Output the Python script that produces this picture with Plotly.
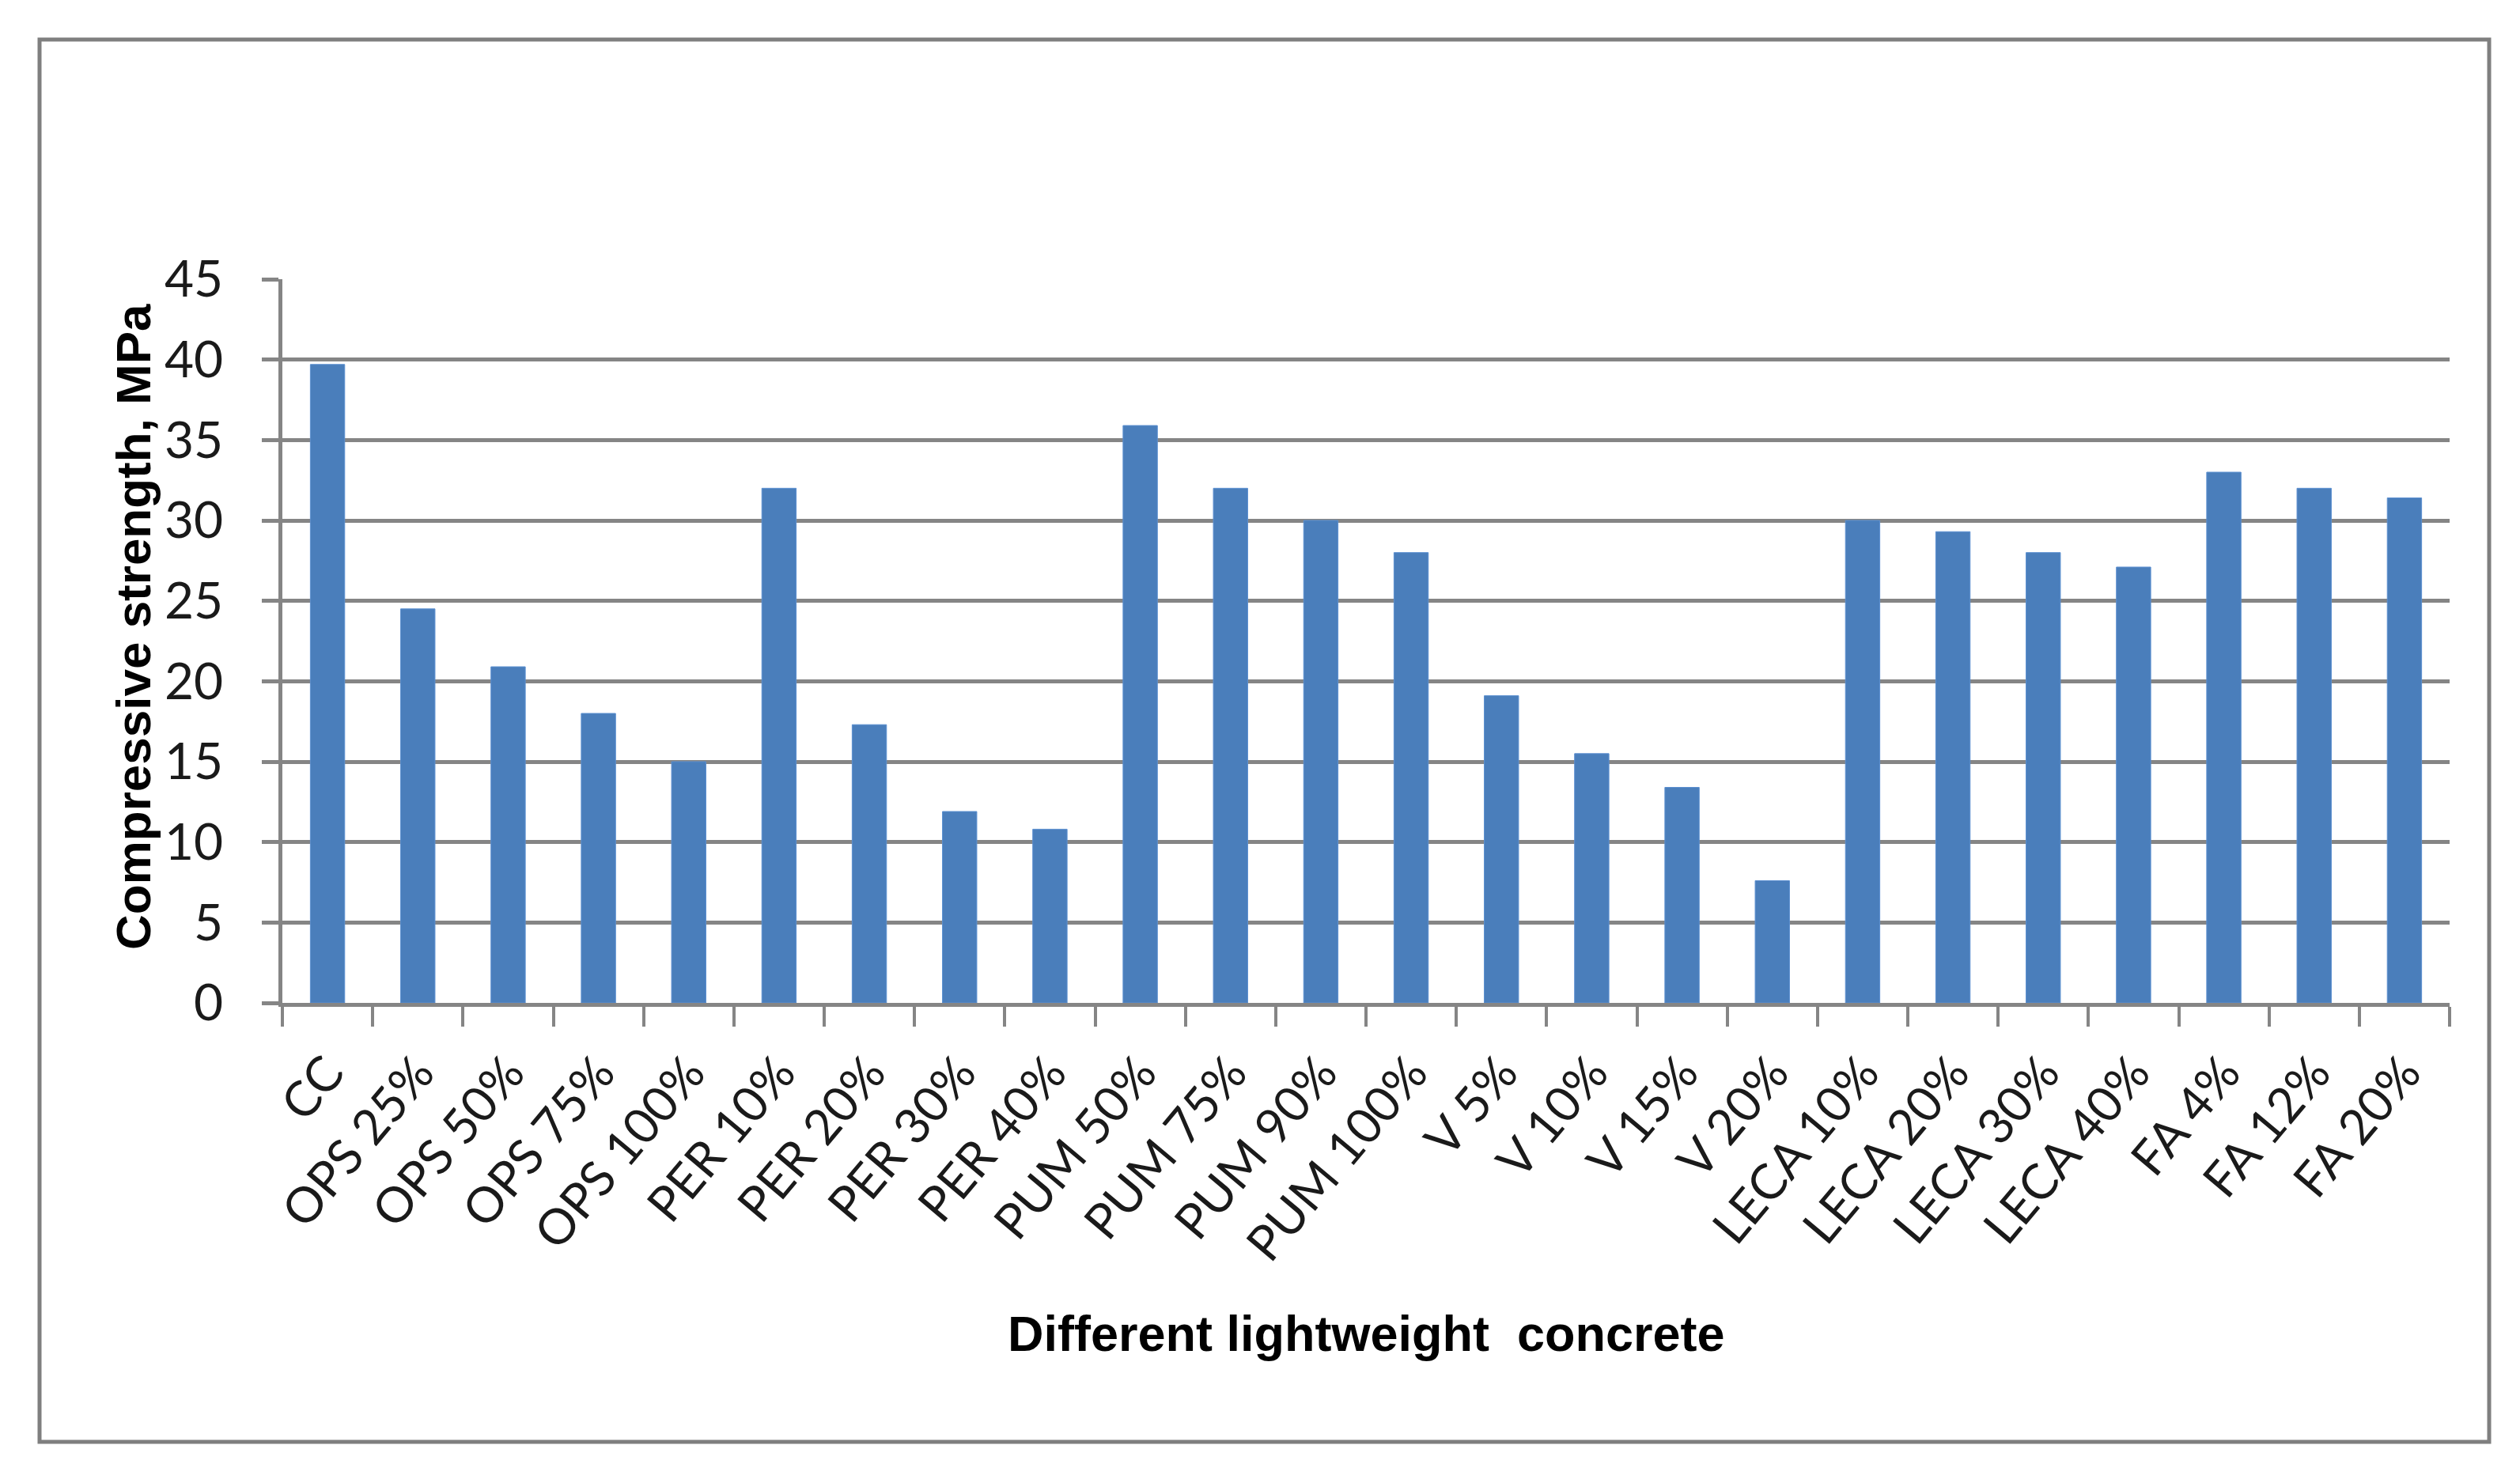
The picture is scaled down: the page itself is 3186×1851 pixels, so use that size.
import plotly.graph_objects as go

categories = ["CC", "OPS 25%", "OPS 50%", "OPS 75%", "OPS 100%", "PER 10%", "PER 20%",
              "PER 30%", "PER 40%", "PUM 50%", "PUM 75%", "PUM 90%", "PUM 100%",
              "V 5%", "V 10%", "V 15%", "V 20%", "LECA 10%", "LECA 20%", "LECA 30%",
              "LECA 40%", "FA 4%", "FA 12%", "FA 20%"]
strength = [39.7, 24.5, 20.9, 18.0, 15.0, 32.0, 17.3, 11.9, 10.8, 35.9, 32.0, 30.0, 28.0,
            19.1, 15.5, 13.4, 7.6, 30.0, 29.3, 28.0, 27.1, 33.0, 32.0, 31.4]
y_ticks = [0, 5, 10, 15, 20, 25, 30, 35, 40, 45]

W, H = 3186, 1851
ML, MR, MT, MB = 349, 97, 345, 591
PW = W - ML - MR
PH = H - MT - MB

def px_x(p):
    return (p - ML) / PW

def px_y(p):
    return (H - MB - p) / PH

fig = go.Figure()
fig.add_trace(go.Bar(
    x=categories, y=strength,
    marker=dict(color="#4a7ebb", line=dict(color="#5b8fd0", width=1)),
))

grid_col = "#858585"
x_tick_font = dict(family="Lato, Calibri, sans-serif", size=62, color="#1a1a1a")
y_tick_font = dict(family="Lato, Calibri, sans-serif", size=64, color="#1a1a1a")

fig.update_layout(
    width=W, height=H,
    margin=dict(l=ML, r=MR, t=MT, b=MB),
    paper_bgcolor="white", plot_bgcolor="white",
    bargap=0.62,
    showlegend=False,
    xaxis=dict(
        type="category",
        tickangle=-50,
        tickfont=x_tick_font,
        showline=True, linecolor=grid_col, linewidth=5,
        ticks="outside", ticklen=25, tickwidth=4, tickcolor=grid_col,
        tickson="boundaries",
        showgrid=False,
        ticklabelstandoff=22,
    ),
    yaxis=dict(
        range=[0, 45],
        tickvals=y_ticks,
        tickfont=y_tick_font,
        showline=True, linecolor=grid_col, linewidth=5,
        showgrid=True, gridcolor=grid_col, gridwidth=5,
        ticks="outside", ticklen=21, tickwidth=5, tickcolor=grid_col,
        ticklabelstandoff=36,
        zeroline=False,
    ),
    shapes=[dict(
        type="rect", xref="paper", yref="paper",
        x0=px_x(42), x1=px_x(3139), y0=px_y(42), y1=px_y(1815),
        line=dict(color="#7f7f7f", width=5), fillcolor="rgba(0,0,0,0)", layer="below",
    )],
    annotations=[
        dict(text="<b>Compressive strength, MPa</b>", xref="paper", yref="paper",
             x=px_x(160), y=px_y(785), textangle=-90, showarrow=False,
             font=dict(family="Liberation Sans, Arial, sans-serif", size=62, color="black"),
             xanchor="center", yanchor="middle"),
        dict(text="<b>Different lightweight  concrete</b>", xref="paper", yref="paper",
             x=px_x(1719), y=px_y(1678), showarrow=False,
             font=dict(family="Liberation Sans, Arial, sans-serif", size=63, color="black"),
             xanchor="center", yanchor="middle"),
    ],
)

fig.write_html("out.html")
